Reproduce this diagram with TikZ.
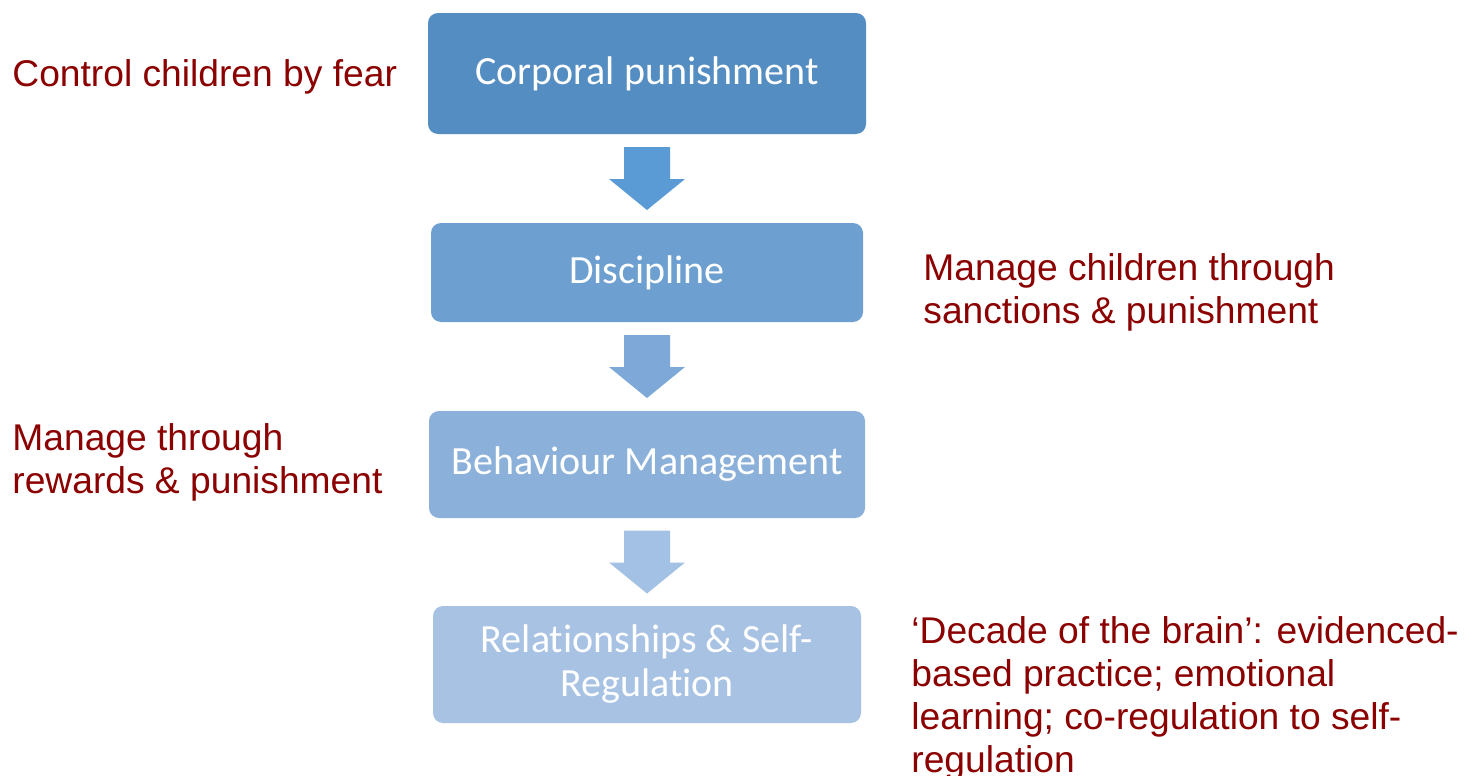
\documentclass[tikz,border=0pt]{standalone}
\usepackage{fontspec}
\setmainfont{Liberation Sans}
\newfontfamily\boxfont[Ligatures=NoCommon]{Carlito}
\usetikzlibrary{positioning,calc}

\definecolor{boxA}{RGB}{84,141,194}
\definecolor{boxB}{RGB}{109,160,208}
\definecolor{boxC}{RGB}{139,176,217}
\definecolor{boxD}{RGB}{167,194,227}
\definecolor{arrA}{RGB}{91,155,213}
\definecolor{arrB}{RGB}{125,168,216}
\definecolor{arrC}{RGB}{163,193,228}
\definecolor{note}{RGB}{139,0,0}

\tikzset{
  stage/.style={rounded corners=5pt,text=white,align=center,
    font=\boxfont\fontsize{20}{22}\selectfont},
  remark/.style={anchor=west,inner sep=0pt,align=left,text=note,
    font=\fontsize{18.6}{21.5}\selectfont},
  pics/downarrow/.style={code={
    \fill (-23,-31.5) -- (23,-31.5) -- (23,0.5) -- (38,0.5) -- (0,31.5)
      -- (-38,0.5) -- (-23,0.5) -- cycle;}}
}

\begin{document}
\begin{tikzpicture}[x=0.5pt,y=-0.5pt]
\clip (0,0) rectangle (1464,776);
\fill[white] (0,0) rectangle (1464,776);

% the four stages
\node[stage,fill=boxA,minimum width=219pt,minimum height=60.5pt] (corporal) at (647,73.5) {Corporal punishment};
\node[stage,fill=boxB,minimum width=216pt,minimum height=49.5pt] (discipline) at (647,272.5) {Discipline};
\node[stage,fill=boxC,minimum width=218pt,minimum height=53.5pt] (behaviour) at (647,464.5) {Behaviour Management};
\node[stage,fill=boxD,minimum width=214pt,minimum height=58.5pt] (selfreg) at (647,664.5) {Relationships \& Self-\\Regulation};

% block arrows between stages
\pic[arrA] at ($(corporal.south)!0.5!(discipline.north)$) {downarrow};
\pic[arrB] at ($(discipline.south)!0.5!(behaviour.north)$) {downarrow};
\pic[arrC] at ($(behaviour.south)!0.5!(selfreg.north)$) {downarrow};

% notes
\node[remark] (fear) at (12,77) {Control children by fear};
\node[remark] (sanctions) at (923,292) {Manage children through\\sanctions \& punishment};
\node[remark] (rewards) at (12,462) {Manage through\\rewards \& punishment};
\node[remark] (brain) at (911,698) {`Decade of the brain': evidenced-\\based practice; emotional\\learning; co-regulation to self-\\regulation};
\end{tikzpicture}
\end{document}
